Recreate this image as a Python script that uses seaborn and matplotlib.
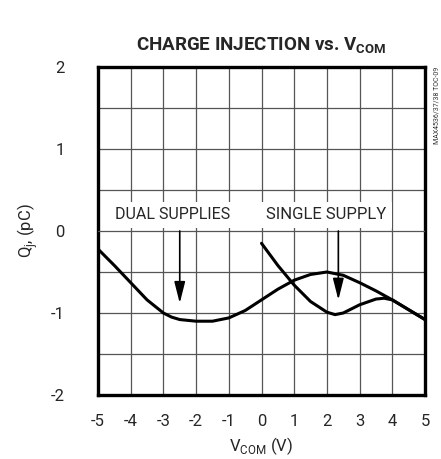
import numpy as np
import pandas as pd
import matplotlib
matplotlib.use('Agg')
import matplotlib.pyplot as plt
import seaborn as sns

# Data
dual_v = [-5, -4.5, -4, -3.5, -3, -2.75, -2.5, -2.25, -2, -1.5, -1, -0.5, 0, 0.5, 1, 1.5, 2, 2.5, 3, 3.5, 4, 4.5, 5]
dual_q = [-0.22, -0.42, -0.63, -0.84, -1.0, -1.05, -1.08, -1.09, -1.1, -1.1, -1.06, -0.97, -0.84, -0.71, -0.6, -0.53, -0.5, -0.54, -0.63, -0.73, -0.84, -0.96, -1.08]

single_v = [0, 0.5, 1, 1.5, 2, 2.25, 2.5, 3, 3.5, 3.75, 4, 4.5, 5]
single_q = [-0.15, -0.42, -0.66, -0.86, -0.99, -1.02, -1.0, -0.9, -0.83, -0.82, -0.84, -0.96, -1.08]

x_ticks = [-5, -4, -3, -2, -1, 0, 1, 2, 3, 4, 5]
y_ticks = [-2, -1, 0, 1, 2]

dual = pd.DataFrame({'vcom': dual_v, 'q': dual_q})
single = pd.DataFrame({'vcom': single_v, 'q': single_q})

sns.set_style('white')
fam = 'Roboto'
plt.rcParams['font.family'] = [fam, 'DejaVu Sans']
plt.rcParams['mathtext.fontset'] = 'custom'
plt.rcParams['mathtext.rm'] = fam
plt.rcParams['mathtext.bf'] = fam + ':bold'

fig = plt.figure(figsize=(4.41, 4.59), dpi=100)
ax = fig.add_axes([98 / 441, 1 - 395 / 459, 327 / 441, 328 / 459])

# grid
for x in x_ticks[1:-1]:
    ax.axvline(x, color='#555555', lw=0.9, zorder=1)
for y in np.arange(-1.5, 2, 0.5):
    ax.axhline(y, color='#555555', lw=0.9, zorder=1 if y != 0 else 4.5)

sns.lineplot(data=dual, x='vcom', y='q', ax=ax, color='black', lw=2.2, sort=False, estimator=None, zorder=3)
sns.lineplot(data=single, x='vcom', y='q', ax=ax, color='black', lw=2.2, sort=False, estimator=None, zorder=3)

# labels with white boxes
ax.text(-2.72, 0.2, 'DUAL SUPPLIES', ha='center', va='center', fontsize=11.5, zorder=4,
        bbox=dict(facecolor='white', edgecolor='none', pad=4))
ax.text(1.98, 0.2, 'SINGLE SUPPLY', ha='center', va='center', fontsize=12, zorder=4,
        bbox=dict(facecolor='white', edgecolor='none', pad=4))

arrow = dict(arrowstyle='-|>,head_length=1.3,head_width=0.33', color='black', lw=1.2, mutation_scale=10, shrinkA=0, shrinkB=0)
ax.annotate('', xy=(-2.5, -0.88), xytext=(-2.5, 0.0), arrowprops=arrow, zorder=5)
ax.annotate('', xy=(2.35, -0.84), xytext=(2.35, 0.0), arrowprops=arrow, zorder=5)

ax.set_xlim(-5, 5)
ax.set_ylim(-2, 2)
ax.set_xticks(x_ticks)
ax.set_yticks(y_ticks)
ax.set_xticklabels([str(t) for t in x_ticks])
ax.set_yticklabels([str(t) for t in y_ticks])
ax.tick_params(length=0, labelsize=12, pad=14)
ax.tick_params(axis='y', pad=24)

for s in ax.spines.values():
    s.set_visible(True)
    s.set_color('black')
    s.set_linewidth(2.4)

ax.set_xlabel('V$_\\mathregular{COM}$ (V)', fontsize=12, labelpad=4)
ax.set_ylabel('Q$_\\mathregular{j}$, (pC)', fontsize=12, labelpad=8)
ax.set_title('CHARGE INJECTION vs. V$_\\mathbf{COM}$', fontsize=13.5, fontweight='bold', pad=12)

fig.text(437 / 441, 1 - 105 / 459, 'MAX4536/37/38 TOC-09', rotation=90, fontsize=5, ha='center', va='center', color='#333333')

fig.savefig('out.png', dpi=100)
